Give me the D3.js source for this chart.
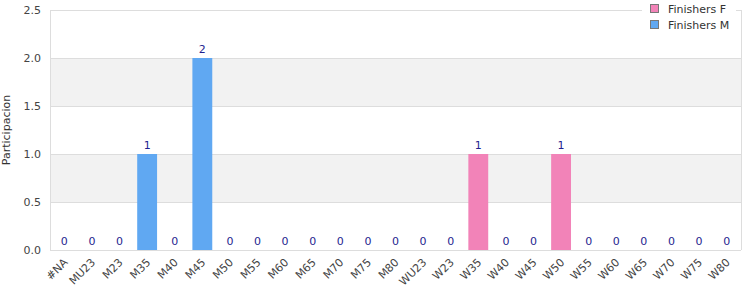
<!DOCTYPE html>
<html><head><meta charset="utf-8">
<script src="https://cdn.jsdelivr.net/npm/d3@7/dist/d3.min.js"></script>
<style>body{margin:0;background:#fff;} text{font-family:"DejaVu Sans",Verdana,sans-serif;}</style>
</head><body><svg id="c" width="750" height="300"></svg>
<script>
const categories = ["#NA","MU23","M23","M35","M40","M45","M50","M55","M60","M65","M70","M75","M80","WU23","W23","W35","W40","W45","W50","W55","W60","W65","W70","W75","W80"];
const finishersF = [0,0,0,0,0,0,0,0,0,0,0,0,0,0,0,1,0,0,1,0,0,0,0,0,0];
const finishersM = [0,0,0,1,0,2,0,0,0,0,0,0,0,0,0,0,0,0,0,0,0,0,0,0,0];
const yTicks = [0,0.5,1.0,1.5,2.0,2.5];
const seriesNames = ["Finishers F","Finishers M"];
const colors = ["#f283b8","#60a8f2"];

const svg = d3.select("#c");
const m = {l:50, r:9, t:10, b:50};
const W = 750, H = 300;
const x = d3.scaleBand().domain(categories).range([m.l, W-m.r]).paddingInner(0.28).paddingOuter(0.16);
const y = d3.scaleLinear().domain([0,2.5]).range([H-m.b, m.t]);

// bands
for (let i=0;i<yTicks.length-1;i++){
  if (i%2===1){
    svg.append("rect").attr("x",m.l).attr("width",W-m.r-m.l)
      .attr("y",y(yTicks[i+1])).attr("height",y(yTicks[i])-y(yTicks[i+1])).attr("fill","#f2f2f2");
  }
}
// gridlines
svg.append("g").selectAll("line").data(yTicks).join("line")
  .attr("x1",m.l).attr("x2",W-m.r).attr("y1",d=>y(d)+0.5).attr("y2",d=>y(d)+0.5)
  .attr("stroke","#dddddd");
svg.append("line").attr("x1",m.l+0.5).attr("x2",m.l+0.5).attr("y1",m.t).attr("y2",H-m.b).attr("stroke","#dddddd");
svg.append("line").attr("x1",W-m.r+0.5).attr("x2",W-m.r+0.5).attr("y1",m.t).attr("y2",H-m.b).attr("stroke","#dddddd");

// y axis
const yAxis = d3.axisLeft(y).tickValues(yTicks).tickFormat(d3.format(".1f")).tickSize(0).tickPadding(9);
const gy = svg.append("g").attr("transform",`translate(${m.l},0)`).call(yAxis);
gy.select(".domain").remove();
gy.selectAll("text").attr("font-size",11).attr("fill","#444");

svg.append("text").attr("transform",`translate(10,${(m.t+H-m.b)/2}) rotate(-90)`)
  .attr("text-anchor","middle").attr("font-size",11).attr("fill","#333").text("Participacion");

// stacked bars
const data = categories.map((c,i)=>({c, F:finishersF[i], M:finishersM[i]}));
const stack = d3.stack().keys(["F","M"])(data);
stack.forEach((s,si)=>{
  svg.append("g").selectAll("rect").data(s).join("rect")
    .attr("x",d=>x(d.data.c)).attr("width",x.bandwidth())
    .attr("y",d=>y(d[1])).attr("height",d=>y(d[0])-y(d[1]))
    .attr("fill",colors[si]);
});
// value labels
svg.append("g").selectAll("text").data(data).join("text")
  .attr("x",d=>x(d.c)+x.bandwidth()/2).attr("y",d=>y(d.F+d.M)-5)
  .attr("text-anchor","middle").attr("font-size",11).attr("fill","#1f1f8f")
  .text(d=>d.F+d.M);

// x axis labels
const xAxis = d3.axisBottom(x).tickSize(0).tickPadding(0);
const gx = svg.append("g").attr("transform",`translate(0,${H-m.b})`).call(xAxis);
gx.select(".domain").remove();
gx.selectAll("text").attr("font-size",11).attr("fill","#444")
  .attr("text-anchor","end").attr("dy",0)
  .attr("transform","translate(4,13) rotate(-45)");

// legend
const lg = svg.append("g");
lg.append("rect").attr("x",642).attr("y",0).attr("width",94).attr("height",34).attr("fill","#fff");
seriesNames.forEach((n,i)=>{
  lg.append("rect").attr("x",650.5).attr("y",4.5+i*16).attr("width",8).attr("height",8)
    .attr("fill",colors[i]).attr("stroke","#777");
  lg.append("text").attr("x",668).attr("y",12.5+i*16).attr("font-size",11).attr("fill","#333").text(n);
});
</script></body></html>
